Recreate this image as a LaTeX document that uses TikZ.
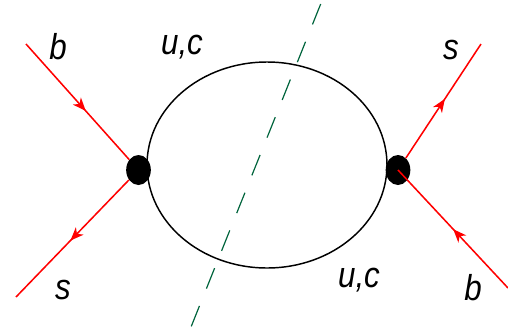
\documentclass[tikz,border=0pt]{standalone}
\usepackage{fontspec}
\setmainfont{Liberation Sans}
\usepackage{xcolor}
\usepackage{tikz}
\usetikzlibrary{shapes.geometric,arrows.meta,decorations.markings}
\definecolor{cutgreen}{RGB}{0,100,60}

\begin{document}
\begin{tikzpicture}[
    x=0.75pt, y=-0.75pt,
    loopline/.style={ellipse, draw, line width=1.1pt, minimum width=180pt, minimum height=154.5pt, inner sep=0pt},
    vertex/.style={ellipse, fill=black, minimum width=18.5pt, minimum height=22.5pt, inner sep=0pt},
    quark/.style={draw=red, line width=1.15pt, postaction={decorate},
        decoration={markings, mark=at position #1 with {\arrow{Stealth[length=10pt,width=8pt,inset=3pt]}}}},
    cut/.style={draw=cutgreen, line width=0.9pt, dash pattern=on 16.5pt off 14pt},
    label/.style={font=\fontsize{27}{27}\selectfont\itshape, xscale=0.87, inner sep=0pt}
]
\useasboundingbox (0,0) rectangle (508,333);

% Loop and cut
\node[loopline] (loop) at (267,165) {};
\coordinate (cuttop) at (320.7,4);
\coordinate (cutbot) at (191,327);
\draw[cut] (cuttop) -- (cutbot);

% Vertices
\node[vertex] (vl) at (138.5,170) {};
\node[vertex] (vr) at (398,170) {};

% Left legs
\coordinate (bl) at (26,44);
\coordinate (sl) at (16,297);
\draw[quark=0.58] (bl) -- (vl);
\draw[quark=0.52] (vl) -- (sl);

% Right legs
\coordinate (sr) at (481,44);
\coordinate (br) at (508,288);
\draw[quark=0.52] (vr) -- (sr);
\draw[quark=0.5] (br) -- (vr.center);

% Labels
\node[label] (lbl1) at (58,47) {b};
\node[label] (lsl) at (63,290) {s};
\node[label] (luc1) at (182,47) {u,c};
\node[label] (luc2) at (359,280) {u,c};
\node[label] (lsr) at (451,50) {s};
\node[label] (lbr) at (473,288) {b};
\end{tikzpicture}
\end{document}
